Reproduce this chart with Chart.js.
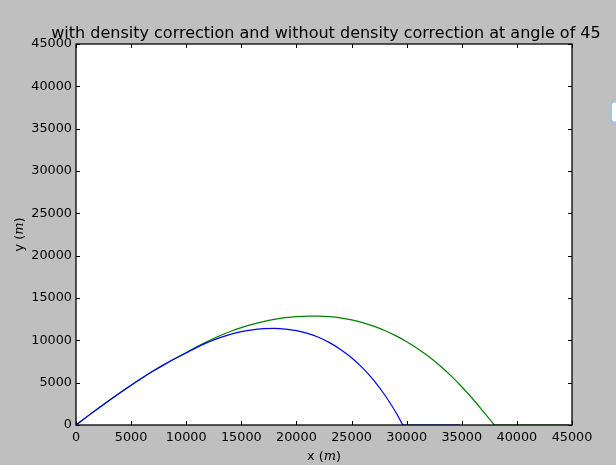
<!DOCTYPE html>
<html>
<head>
<meta charset="utf-8">
<script src="https://cdn.jsdelivr.net/npm/chart.js@4.4.1/dist/chart.umd.min.js"></script>
<style>
  body { margin: 0; background: #bfbfbf; }
  canvas { display: block; }
</style>
</head>
<body>
<canvas id="chart" width="616" height="465" style="width:616px;height:465px"></canvas>
<script>
// trajectories (x, y in metres)
const blueX = [0, 1000, 2000, 3000, 4000, 5000, 6000, 7000, 8000, 9000, 10000, 11000, 12000, 13000, 14000, 15000, 16000, 17000, 18000, 19000, 20000, 21000, 22000, 23000, 24000, 25000, 26000, 27000, 28000, 29000, 29650];
const blueY = [0, 990, 1960, 2905, 3820, 4705, 5555, 6365, 7130, 7845, 8505, 9194, 9790, 10293, 10703, 11020, 11244, 11375, 11413, 11335, 11150, 10830, 10360, 9730, 8930, 7950, 6750, 5300, 3570, 1530, 0];
// blue lies along the ground after it lands
const blueTailX = [29650, 34800];
const blueTailY = [0, 0];

const greenX = [0, 1000, 2000, 3000, 4000, 5000, 6000, 7000, 8000, 9000, 10000, 11000, 12000, 13000, 14000, 15000, 16000, 17000, 18000, 19000, 20000, 21000, 22000, 23000, 24000, 25000, 26000, 27000, 28000, 29000, 30000, 31000, 32000, 33000, 34000, 35000, 36000, 37000, 37950];
const greenY = [0, 990, 1960, 2905, 3820, 4705, 5555, 6365, 7135, 7860, 8560, 9277, 9929, 10516, 11038, 11495, 11887, 12214, 12476, 12673, 12805, 12865, 12860, 12790, 12645, 12415, 12095, 11680, 11170, 10560, 9845, 9020, 8080, 7020, 5835, 4520, 3070, 1510, 0];
const greenTailX = [37950, 44700];
const greenTailY = [0, 0];

const xTicks = [0, 5000, 10000, 15000, 20000, 25000, 30000, 35000, 40000, 45000];
const yTicks = [0, 5000, 10000, 15000, 20000, 25000, 30000, 35000, 40000, 45000];

const titleText = "with density correction and without density correction at angle of 45";

function toPoints(xs, ys) {
  return xs.map((x, i) => ({ x: x, y: ys[i] }));
}

function lineSet(xs, ys, color) {
  return {
    data: toPoints(xs, ys),
    showLine: true,
    borderColor: color,
    borderWidth: 1.2,
    pointRadius: 0,
    cubicInterpolationMode: "monotone",
    fill: false
  };
}

// gray figure, white axes
const background = {
  id: "background",
  beforeDraw(chart) {
    const { ctx, chartArea: a } = chart;
    ctx.save();
    ctx.fillStyle = "#bfbfbf";
    ctx.fillRect(0, 0, chart.width, chart.height);
    ctx.fillStyle = "#ffffff";
    ctx.fillRect(a.left, a.top, a.right - a.left, a.bottom - a.top);
    ctx.restore();
  }
};

// frame, inward ticks, titles and the empty legend box
const decorations = {
  id: "decorations",
  afterDatasetsDraw(chart) {
    const { ctx, chartArea: a, scales } = chart;
    ctx.save();
    ctx.strokeStyle = "#000";
    ctx.lineWidth = 1;
    ctx.beginPath();
    xTicks.forEach(v => {
      const px = Math.round(scales.x.getPixelForValue(v)) + 0.5;
      ctx.moveTo(px, a.bottom); ctx.lineTo(px, a.bottom - 4);
      ctx.moveTo(px, a.top); ctx.lineTo(px, a.top + 4);
    });
    yTicks.forEach(v => {
      const py = Math.round(scales.y.getPixelForValue(v)) + 0.5;
      ctx.moveTo(a.left, py); ctx.lineTo(a.left + 4, py);
      ctx.moveTo(a.right, py); ctx.lineTo(a.right - 4, py);
    });
    ctx.stroke();

    ctx.lineWidth = 1.3;
    ctx.strokeRect(a.left, a.top, a.right - a.left, a.bottom - a.top);

    // title
    ctx.fillStyle = "#000";
    ctx.font = "16px 'DejaVu Sans'";
    ctx.textAlign = "center";
    ctx.textBaseline = "alphabetic";
    ctx.fillText(titleText, (a.left + a.right) / 2 + 2, 38);

    // axis labels with italic m
    drawLabel(ctx, "x", (a.left + a.right) / 2, 460, 0);
    drawLabel(ctx, "y", 19, (a.top + a.bottom) / 2, -Math.PI / 2);

    // empty legend box, mostly off the canvas
    ctx.beginPath();
    ctx.roundRect(611, 101.5, 30, 21, 4);
    ctx.fillStyle = "#ffffff";
    ctx.fill();
    ctx.strokeStyle = "#9fc3ea";
    ctx.lineWidth = 2;
    ctx.stroke();
    ctx.restore();
  }
};

function drawLabel(ctx, name, cx, cy, rot) {
  const normal = "12.8px 'DejaVu Sans'";
  const italic = "italic 13px 'DejaVu Serif'";
  const parts = [[name + " (", normal], ["m", italic], [")", normal]];
  ctx.save();
  ctx.translate(cx, cy);
  ctx.rotate(rot);
  ctx.textAlign = "left";
  ctx.textBaseline = "alphabetic";
  let total = 0;
  parts.forEach(p => { ctx.font = p[1]; total += ctx.measureText(p[0]).width; });
  let x = -total / 2;
  parts.forEach(p => {
    ctx.font = p[1];
    ctx.fillText(p[0], x, rot === 0 ? 0 : 4);
    x += ctx.measureText(p[0]).width;
  });
  ctx.restore();
}

const tickFont = { family: "DejaVu Sans", size: 12.8 };

chart = new Chart("chart", {
  type: "scatter",
  data: {
    datasets: [
      lineSet(blueX, blueY, "#0000ff"),
      lineSet(blueTailX, blueTailY, "#0000ff"),
      lineSet(greenX, greenY, "#008000"),
      lineSet(greenTailX, greenTailY, "#008000")
    ]
  },
  options: {
    responsive: false,
    animation: false,
    layout: { padding: { top: 44, right: 44, left: 0, bottom: 0 } },
    plugins: {
      legend: { display: false },
      title: { display: false },
      tooltip: { enabled: false }
    },
    scales: {
      x: {
        type: "linear",
        min: 0,
        max: 45000,
        afterFit: s => { s.height = 40; },
        afterBuildTicks: s => { s.ticks = xTicks.map(v => ({ value: v })); },
        grid: { display: false, drawTicks: false },
        border: { display: false },
        ticks: { color: "#000", font: tickFont, padding: 5, maxRotation: 0, callback: v => String(v) }
      },
      y: {
        type: "linear",
        min: 0,
        max: 45000,
        afterFit: s => { s.width = 76; },
        afterBuildTicks: s => { s.ticks = yTicks.map(v => ({ value: v })); },
        grid: { display: false, drawTicks: false },
        border: { display: false },
        ticks: { color: "#000", font: tickFont, padding: 4, callback: v => String(v) }
      }
    }
  },
  plugins: [background, decorations]
});
</script>
</body>
</html>
